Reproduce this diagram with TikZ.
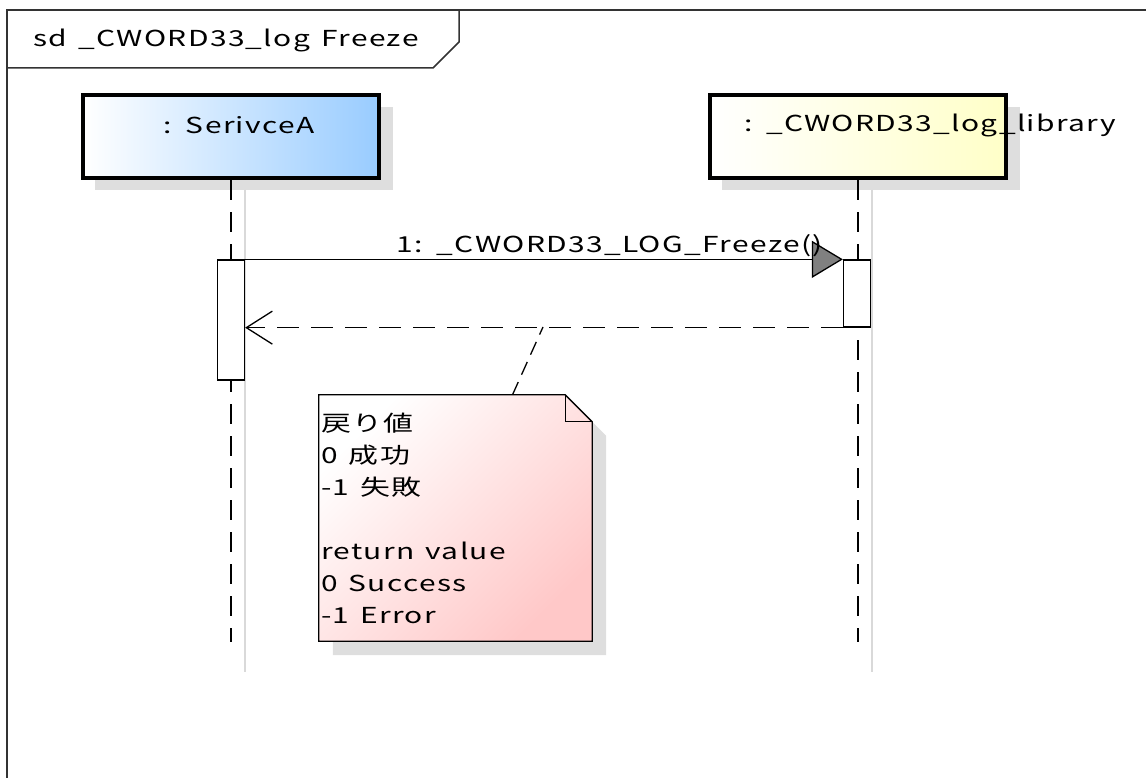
\documentclass[tikz,border=0pt]{standalone}
\usepackage{fontspec}
\setmainfont{Noto Sans CJK JP}[FakeStretch=1.36,LetterSpace=6,WordSpace=1.4]
\usetikzlibrary{arrows.meta,positioning}
\definecolor{svcblue}{HTML}{99CCFF}
\definecolor{libyellow}{HTML}{FFFFC8}
\definecolor{notepink}{HTML}{FFC8C8}

\begin{document}
\begin{tikzpicture}[x=1pt,y=-1pt,
    every node/.style={font=\fontsize{22}{32}\selectfont},
    lifebox/.style={draw,line width=4.5pt,minimum width=296pt,minimum height=83pt,inner sep=0pt},
    boxshadow/.style={fill=black!13},
    activation/.style={draw,fill=white,line width=1.3pt,minimum width=27pt,inner sep=0pt},
    lifeline/.style={line width=1.5pt,dash pattern=on 20pt off 12pt},
    msg/.style={line width=1.3pt}]
  \useasboundingbox (0,0) rectangle (1146,778);
  % Draw the frame and its tab
  \draw[line width=1.5pt,black!80] (7,778) -- (7,10) -- (1146,10);
  \draw[line width=1.5pt,black!80] (7,68) -- (433,68) -- (459,42) -- (459,10);
  \node[anchor=west] (title) at (30,40) {sd \_CWORD33\_log Freeze};
  % Draw the shadows of the participants and their lifelines
  \foreach \x in {231,858}{
    \fill[boxshadow] (\x-136,107) rectangle (\x+162,190);
    \draw[black!15,line width=1.5pt] (\x+14,190) -- (\x+14,672);
  }
  % Draw the participants
  \node[lifebox,left color=white,right color=svcblue] (svc) at (231,136.5) {};
  \node[lifebox,left color=white,right color=libyellow] (lib) at (858,136.5) {};
  \node (svclabel) at (239,125) {: SerivceA};
  \node (liblabel) at (930,125) {: \_CWORD33\_log\_library};
  % Draw the lifelines
  \coordinate (svcend) at (231,642);
  \coordinate (libend) at (858,642);
  \draw[lifeline] (svc.south) -- (svcend);
  \draw[lifeline] (lib.south) -- (libend);
  % Draw the activations
  \node[activation,minimum height=120pt] (svcact) at (231,320) {};
  \node[activation,minimum height=67pt] (libact) at (857,293.5) {};
  % Draw the call and the return
  \draw[msg,-{Triangle[length=31pt,width=37pt,fill=black!50]}] (svcact.north east) --
    node[pos=0.61,above=-1pt] (call) {1: \_CWORD33\_LOG\_Freeze()} (libact.north west);
  \draw[msg,dash pattern=on 22pt off 12pt,-{Straight Barb[length=26pt,width=33pt]}]
    (libact.south west) -- (libact.south west -| svcact.east);
  % Draw the note with its folded corner
  \node[minimum width=273pt,minimum height=246pt,inner sep=0pt] (note) at (455.5,518) {};
  \fill[boxshadow] ([xshift=14pt,yshift=-14pt]note.north west) -- ([xshift=-13pt,yshift=-14pt]note.north east)
    -- ([xshift=14pt,yshift=-41pt]note.north east) -- ([xshift=14pt,yshift=-14pt]note.south east)
    -- ([xshift=14pt,yshift=-14pt]note.south west) -- cycle;
  \shade[draw,line width=1.3pt,top color=white,bottom color=notepink,shading angle=45]
    (note.north west) -- ([xshift=-27pt]note.north east) -- ([yshift=-27pt]note.north east)
    -- (note.south east) -- (note.south west) -- cycle;
  \draw[line width=1.3pt] ([xshift=-27pt]note.north east) |- ([yshift=-27pt]note.north east);
  \node[align=left,anchor=west,inner sep=2pt] (notetext) at (note.west) {戻り値\\0 成功\\-1 失敗\\[32pt]return value\\0 Success\\-1 Error};
  % Draw the note connector
  \coordinate (notepin) at (543,327);
  \draw[line width=1.3pt,dash pattern=on 14pt off 8pt] ([xshift=57pt]note.north) -- (notepin);
\end{tikzpicture}
\end{document}
